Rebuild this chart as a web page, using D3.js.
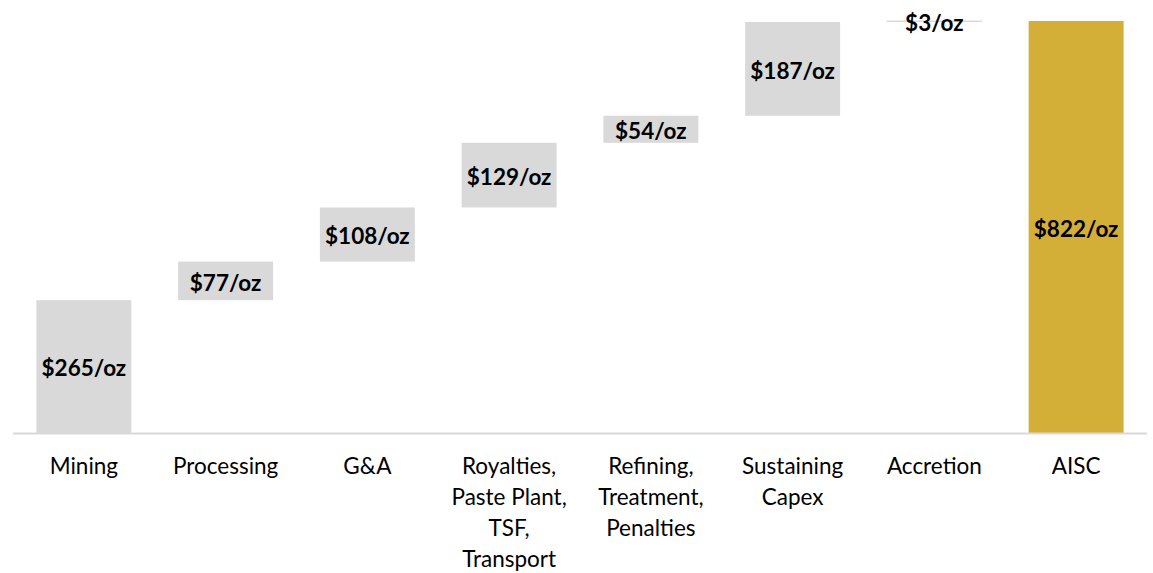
<!DOCTYPE html>
<html><head><meta charset="utf-8">
<script src="https://cdn.jsdelivr.net/npm/d3@7"></script>
<style>body{margin:0;background:#fff}</style>
</head><body>
<svg id="c" width="1153" height="573"></svg>
<script>
const categories = ["Mining", "Processing", "G&A", "Royalties, Paste Plant, TSF, Transport", "Refining, Treatment, Penalties", "Sustaining Capex", "Accretion", "AISC"];
const categoryLines = [["Mining"], ["Processing"], ["G&A"], ["Royalties,", "Paste Plant,", "TSF,", "Transport"], ["Refining,", "Treatment,", "Penalties"], ["Sustaining", "Capex"], ["Accretion"], ["AISC"]];
const values = [265, 77, 108, 129, 54, 187, 3, 822];
const isTotal = [false, false, false, false, false, false, false, true];
const labels = ["$265/oz", "$77/oz", "$108/oz", "$129/oz", "$54/oz", "$187/oz", "$3/oz", "$822/oz"];

const svg = d3.select("#c");
const x = d3.scaleBand().domain(categories).range([13, 1147]).paddingInner(0.33).paddingOuter(0.165);
const y = d3.scaleLinear().domain([0, 822]).range([433, 21]);

let cum = 0;
const bars = values.map((v, i) => {
  let start, end;
  if (isTotal[i]) { start = 0; end = v; }
  else { start = cum; end = cum + v; cum = end; }
  return {cat: categories[i], start, end, total: isTotal[i], label: labels[i]};
});

svg.selectAll("rect.bar").data(bars).enter().append("rect")
  .attr("class", "bar")
  .attr("x", d => x(d.cat))
  .attr("width", x.bandwidth())
  .attr("y", d => y(d.end))
  .attr("height", d => Math.max(1.5, y(d.start) - y(d.end)))
  .attr("fill", d => d.total ? "#d4af37" : "#d9d9d9");

// baseline
svg.append("line").attr("x1", 13).attr("x2", 1147).attr("y1", y(0) + 0.5).attr("y2", y(0) + 0.5)
  .attr("stroke", "#d9d9d9").attr("stroke-width", 2);

svg.selectAll("text.val").data(bars).enter().append("text")
  .attr("class", "val")
  .attr("x", d => x(d.cat) + x.bandwidth() / 2)
  .attr("y", d => (y(d.start) + y(d.end)) / 2 + 2)
  .attr("dy", "0.35em")
  .attr("text-anchor", "middle")
  .attr("font-family", "Lato, 'Open Sans', sans-serif")
  .attr("font-weight", "bold")
  .attr("font-size", 22.5)
  .attr("fill", "#000")
  .text(d => d.label);

const catG = svg.selectAll("g.cat").data(categories).enter().append("g").attr("class", "cat");
catG.each(function(c, i) {
  const g = d3.select(this);
  categoryLines[i].forEach((ln, k) => {
    g.append("text")
      .attr("x", x(c) + x.bandwidth() / 2)
      .attr("y", 466 + k * 31)
      .attr("dy", "0.35em")
      .attr("text-anchor", "middle")
      .attr("font-family", "Lato, 'Open Sans', sans-serif")
      .attr("font-size", 22.5)
      .attr("fill", "#000")
      .text(ln);
  });
});
</script>
</body></html>
